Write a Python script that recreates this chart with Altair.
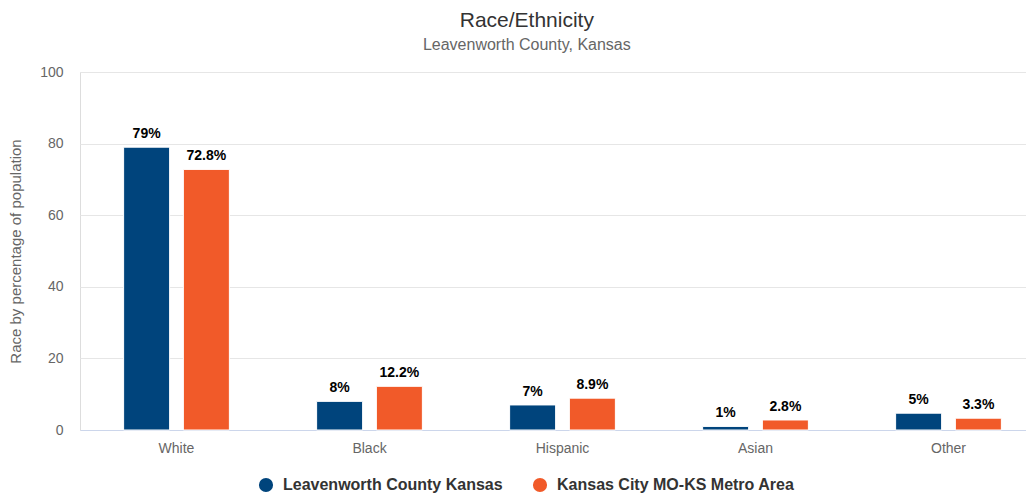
import altair as alt
import pandas as pd

categories = ["White", "Black", "Hispanic", "Asian", "Other"]
series = ["Leavenworth County Kansas", "Kansas City MO-KS Metro Area"]
county = [79, 8, 7, 1, 4.7]
metro = [72.8, 12.2, 8.9, 2.8, 3.3]
county_labels = ["79%", "8%", "7%", "1%", "5%"]
metro_labels = ["72.8%", "12.2%", "8.9%", "2.8%", "3.3%"]
colors = ["#00447c", "#f15a29"]

rows = []
for c, v, l in zip(categories, county, county_labels):
    rows.append({"cat": c, "series": series[0], "value": v, "label": l})
for c, v, l in zip(categories, metro, metro_labels):
    rows.append({"cat": c, "series": series[1], "value": v, "label": l})
df = pd.DataFrame(rows)

FONT = "Liberation Sans"

x = alt.X("cat:N", sort=categories, title=None,
          scale=alt.Scale(paddingInner=0, paddingOuter=0, range=[0, 965]),
          axis=alt.Axis(labelAngle=0, labelFontSize=14, labelColor="#666666",
                        labelPadding=11, ticks=False, domainColor="#ccd6eb",
                        labelFont=FONT))
xo = alt.XOffset("series:N", sort=series,
                 scale=alt.Scale(paddingInner=0.23, paddingOuter=0.73))
y = alt.Y("value:Q", title="Race by percentage of population",
          scale=alt.Scale(domain=[0, 100]),
          axis=alt.Axis(values=[0, 20, 40, 60, 80, 100], labelFontSize=14,
                        labelColor="#666666", labelPadding=17, ticks=False,
                        domain=False, gridColor="#e6e6e6", titleFontSize=15,
                        titleColor="#666666", titleFontWeight="normal",
                        titlePadding=16, labelFont=FONT, titleFont=FONT))
color = alt.Color("series:N", sort=series,
                  scale=alt.Scale(domain=series, range=colors),
                  legend=alt.Legend(title=None, orient="none", direction="horizontal",
                                    legendX=178, legendY=405, padding=0,
                                    symbolType="circle", symbolSize=200,
                                    symbolStrokeWidth=0, labelFontSize=16,
                                    labelFontWeight="bold", labelColor="#333333",
                                    labelFont=FONT, columnPadding=29, labelOffset=9,
                                    labelLimit=0))

bars = alt.Chart(df).mark_bar(stroke="white", strokeWidth=1).encode(
    x=x, xOffset=xo, y=y, color=color)
texts = alt.Chart(df).mark_text(baseline="bottom", dy=-6, fontSize=14,
                                fontWeight="bold", color="#000000", font=FONT).encode(
    x=x, xOffset=xo, y="value:Q", text="label:N")

chart = alt.layer(bars, texts).properties(
    width=946, height=358,
    title=alt.TitleParams("Race/Ethnicity", subtitle="Leavenworth County, Kansas",
                          fontSize=21, color="#333333", font=FONT, fontWeight="normal",
                          subtitleFontSize=16, subtitleColor="#666666",
                          subtitleFont=FONT, subtitlePadding=6, anchor="middle",
                          frame="bounds", offset=12),
    autosize=alt.AutoSizeParams(type="none"),
    padding={"left": 72, "top": 64, "right": 0, "bottom": 65},
).configure_view(stroke=None).configure(background="white")

chart.save("out.html", embed_options={"renderer": "svg", "actions": False})
